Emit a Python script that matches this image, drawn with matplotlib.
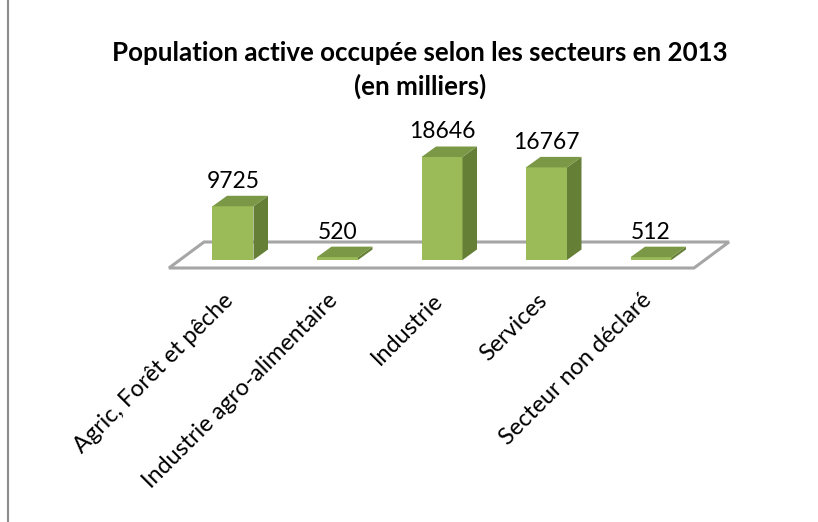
import matplotlib
matplotlib.use("Agg")
import matplotlib.pyplot as plt
from matplotlib.patches import Polygon, Rectangle

categories = ["Agric, Forêt et pêche", "Industrie agro-alimentaire", "Industrie",
              "Services", "Secteur non déclaré"]
values = [9725, 520, 18646, 16767, 512]
title = "Population active occupée selon les secteurs en 2013\n(en milliers)"

FRONT = "#9bbb59"
SIDE = "#667f37"
TOP = "#7a9846"
FLOOR = "#a6a6a6"
FONT = "Lato"

W, H = 818, 522
fig = plt.figure(figsize=(W / 100, H / 100), dpi=100)
ax = fig.add_axes([0, 0, 1, 1])
ax.set_axis_off()

# layout mapping: category i at x px = 233 + 104.5 i ; value 0 at 260px from top
x0px = 233.0
px_per_cat = 104.5
px_per_val = 103.0 / 18646
ax.set_xlim(-x0px / px_per_cat, (W - x0px) / px_per_cat)
ax.set_ylim(-(H - 260) / px_per_val, 260 / px_per_val)

bw = 41 / px_per_cat
ddx = 14.5 / px_per_cat
ddy = 10.5 / px_per_val

x = list(range(len(values)))

# floor
f_front = -8 / px_per_val
f_back = 18 / px_per_val
f_shift = 35 / px_per_cat
fl = x[0] - 64 / px_per_cat
fr = x[-1] + 43 / px_per_cat
floor = Polygon([(fl, f_front), (fr, f_front), (fr + f_shift, f_back), (fl + f_shift, f_back)],
                closed=True, facecolor="white", edgecolor=FLOOR, lw=2.2, zorder=1)
ax.add_patch(floor)

# bars
bars = ax.bar(x, values, width=bw, color=FRONT, edgecolor="none", zorder=3)
for b, v in zip(bars, values):
    xa = b.get_x()
    xb = xa + b.get_width()
    side = Polygon([(xb, 0), (xb + ddx, ddy), (xb + ddx, v + ddy), (xb, v)],
                   closed=True, facecolor=SIDE, edgecolor="none", zorder=3)
    top = Polygon([(xa, v), (xb, v), (xb + ddx, v + ddy), (xa + ddx, v + ddy)],
                  closed=True, facecolor=TOP, edgecolor="none", zorder=3)
    ax.add_patch(side)
    ax.add_patch(top)
    ax.text(xa + b.get_width() / 2, v + ddy + 4 / px_per_val, f"{v}",
            ha="center", va="bottom", fontsize=16.5, family=FONT, zorder=4)

# category labels
lab_y = -37 / px_per_val
for xi, c in zip(x, categories):
    ax.text(xi - 3 / px_per_cat, lab_y, c, rotation=45, ha="right", va="center",
            rotation_mode="anchor", fontsize=16.8, family=FONT)

# title
fig.text(420 / W, 1 - 70 / H, title, ha="center", va="center", fontsize=18.6,
         fontweight="bold", family=FONT, linespacing=1.45)

# chart frame (partly outside the picture)
fig.patches.append(Rectangle((8 / W, -0.2), 1.2, 1.2 + (1 - 12 / H),
                             transform=fig.transFigure, fill=False,
                             edgecolor="#8c8c8c", lw=1.5))

fig.savefig("out.png", dpi=100)
